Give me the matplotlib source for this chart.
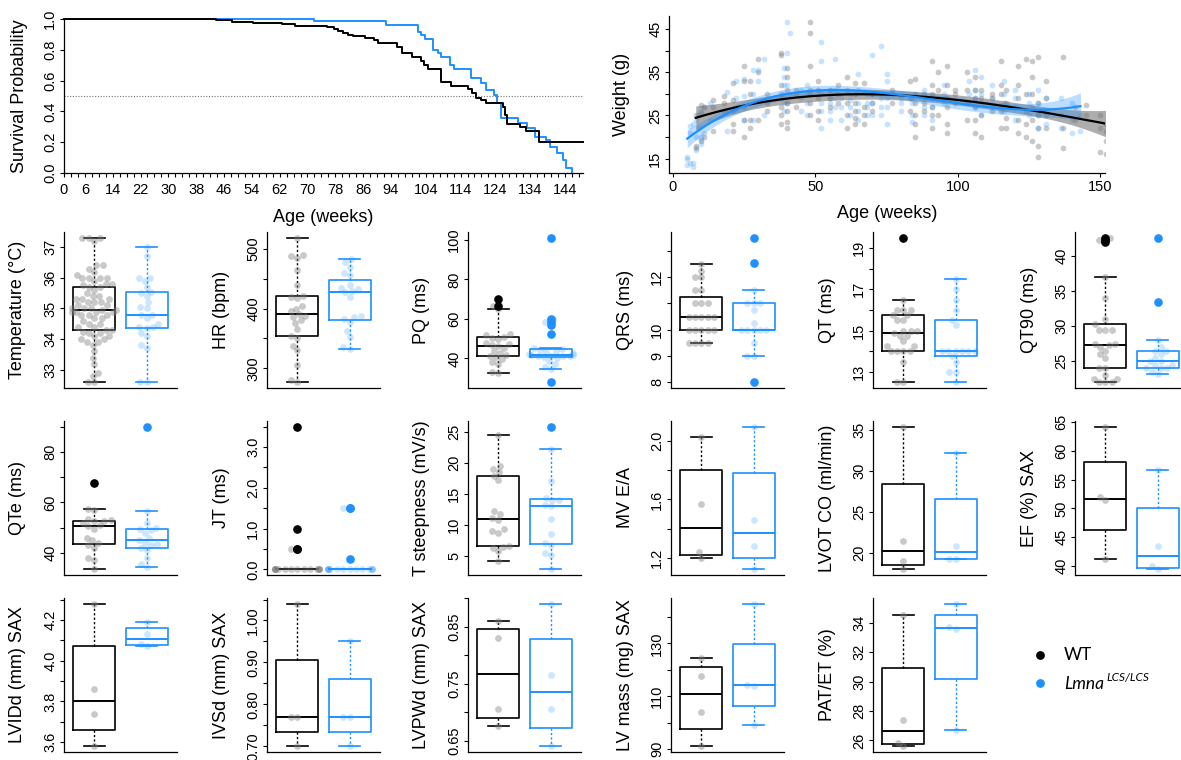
import numpy as np
import matplotlib
matplotlib.use("Agg")
import matplotlib.pyplot as plt

plt.rcParams['font.family'] = ['Liberation Sans', 'DejaVu Sans']

BLUE = '#1E90FF'
W, H = 1181, 760

# ---- survival (Kaplan-Meier steps) ----
wt_time = [0, 43.7, 48.4, 54.2, 57.7, 62.7, 66.5, 75.7, 77.6, 78.9, 80.3, 81.6, 83.2, 86.4,
           89.1, 90.2, 95.6, 97.2, 99.9, 102.6, 103.6, 104.7, 108.5, 111.2, 116.0, 117.3,
           118.4, 119.8, 121.4, 126.2, 126.8, 127.3, 131.1, 132.7, 136.5, 149.2]
wt_surv = [1.0, 0.994, 0.983, 0.976, 0.972, 0.965, 0.957, 0.946, 0.933, 0.922, 0.907, 0.898,
           0.89, 0.879, 0.864, 0.842, 0.82, 0.777, 0.751, 0.727, 0.70, 0.675, 0.593, 0.567,
           0.543, 0.517, 0.485, 0.474, 0.457, 0.43, 0.377, 0.32, 0.30, 0.27, 0.203, 0.203]
lm_time = [0, 71.9, 92.6, 101.7, 102.6, 103.9, 106.1, 107.4, 108.3, 111.0, 112.0, 116.9,
           119.8, 121.4, 123.5, 124.4, 125.5, 130.5, 133.0, 135.4, 138.6, 139.7, 141.8,
           143.5, 144.2, 146.1]
lm_surv = [1.0, 0.985, 0.963, 0.918, 0.896, 0.87, 0.80, 0.777, 0.751, 0.70, 0.675, 0.62,
           0.582, 0.54, 0.506, 0.452, 0.355, 0.322, 0.29, 0.236, 0.214, 0.171, 0.128,
           0.084, 0.03, 0.0]
surv_xlabels = [0, 6, 14, 22, 30, 38, 46, 54, 62, 70, 78, 86, 94, 104, 114, 124, 134, 144]

# ---- body weight scatter ----
wt_ages = [8, 10, 11, 14, 18, 21, 25, 27, 30, 33, 38, 40, 43, 48, 51, 55, 58, 61, 64, 67, 70,
           77, 83, 85, 88, 91, 93, 96, 99, 103, 106, 108, 112, 115, 117, 121, 124, 126, 128,
           131, 137, 141, 145, 150, 152]
wt_weights = [[17.5, 18, 25], [19, 25.5, 27.5], [20, 27], [21.5, 27, 28.5], [26, 28, 29.5],
              [21.5, 23, 26, 28.5, 32.5], [20, 24, 27, 33, 36.5], [22, 24, 30, 33], [24, 35, 38],
              [26, 28, 30], [23, 25, 27, 29, 30, 32, 39, 39.5], [22, 23.5, 26, 28, 31, 34, 36],
              [27, 30, 31], [25, 28, 30, 31, 36.5, 44, 46.5], [24, 26, 29, 31, 33], [27, 29, 31],
              [28, 30, 32], [22, 25, 28, 31, 34], [23, 24.5, 26, 28, 30, 32.5],
              [23, 25, 27, 30.5, 32.5], [26, 28, 30], [28, 30, 31], [26, 29, 33],
              [20, 23, 25, 28, 30, 33.5], [26, 28, 30], [22, 25, 27, 30, 32, 37.5],
              [25, 29, 31, 35], [21, 23, 27, 29, 32, 36.5], [28, 30, 31], [24, 28, 31, 35],
              [21, 24, 27, 29, 31, 34], [20, 25, 29, 31], [26, 29, 30], [22, 26, 30, 32, 37.5],
              [22, 24.5, 28, 31], [21, 24, 29, 32, 36.5], [20, 23, 26, 30, 38],
              [19, 24, 27, 30, 34, 37.5], [15.5, 18, 22, 25, 28, 38.5], [22, 25, 29, 33],
              [17.5, 22, 38.5], [24, 27], [25, 27.5], [16.5, 22, 25], [16, 19, 21.5, 23]]
lm_ages = [5, 6, 7, 8, 9, 10, 11, 13, 19, 22, 25, 28, 30, 32, 39, 40, 41, 45, 47, 52, 55, 57,
           59, 62, 65, 68, 70, 73, 75, 80, 84, 88, 91, 95, 104, 106, 108, 112, 116, 120, 125,
           128, 131, 136, 140, 143]
lm_weights = [[13.5, 15, 15.5], [14, 21, 22.5], [13, 14, 23], [17, 20, 24], [22, 25],
              [18.5, 19.5, 20, 26], [21, 27], [24, 28], [21.5, 26, 30.5], [26.5, 29, 33],
              [24, 29.5, 33.5], [24, 30, 35.5], [33, 35.5], [25, 38], [26, 28, 30, 32, 34, 36],
              [28, 32, 39.5, 46.5], [30, 44], [26, 29, 31], [25, 28, 30.5, 32],
              [22, 26, 28, 30, 37.5, 42], [24, 26, 28, 29, 31], [27, 29, 31, 38], [24, 27, 29],
              [25, 27, 28.5, 30], [24, 26, 28, 31, 34.5], [25, 27, 28, 30], [25, 28, 30, 39],
              [25, 27, 29, 41], [23, 27, 29, 33, 34.5], [26, 28, 29, 30], [23.5, 25, 28, 29],
              [25, 27, 29, 31], [24, 27, 29], [28, 30, 32], [28, 30, 33], [27, 29, 31, 35.5],
              [25, 28, 30, 34], [27, 29, 32], [26, 28, 30, 33], [24, 27, 29, 31], [25, 28, 30],
              [22, 25, 28, 31], [23, 26, 29], [22, 25, 29], [21, 24, 28], [21.5, 25]]

# ---- per-animal phenotype values (WT, Lmna LCS/LCS) ----
temp_wt = [32.6, 32.6, 32.8, 32.9, 33.2, 33.4, 33.6, 33.8, 33.9, 33.9, 34.0, 34.0, 34.1, 34.1,
           34.2, 34.2, 34.25, 34.3, 34.3, 34.4, 34.4, 34.5, 34.5, 34.6, 34.7, 34.7, 34.8, 34.8,
           34.8, 34.9, 34.9, 34.9, 34.9, 34.95, 34.95, 35.0, 35.0, 35.0, 35.1, 35.1, 35.2, 35.2,
           35.2, 35.3, 35.3, 35.3, 35.4, 35.4, 35.5, 35.6, 35.7, 35.7, 35.75, 35.8, 35.9, 36.0,
           36.0, 36.0, 36.0, 36.1, 36.2, 36.3, 36.4, 36.4, 37.2, 37.3, 37.3, 37.3, 35.8]
temp_lm = [32.6, 32.6, 33.7, 33.8, 34.1, 34.2, 34.35, 34.4, 34.4, 34.5, 34.7, 34.8, 34.8,
           35.0, 35.05, 35.2, 35.4, 35.5, 35.55, 35.7, 35.9, 36.0, 36.0, 36.7, 37.0]
hr_wt = [277, 280, 305, 330, 338, 350, 354, 365, 375, 380, 385, 388, 390, 395, 400, 405, 418,
         420, 421, 440, 465, 485, 488, 490, 518]
hr_lm = [333, 335, 352, 362, 378, 382, 385, 388, 420, 428, 430, 432, 435, 440, 456, 460, 470,
         478, 482]
pq_wt = [32.5, 33, 37, 38, 39.5, 40.5, 41.5, 42, 43, 44, 45.5, 46.5, 47, 47.5, 48, 50, 50.5,
         51.1, 52, 52.5, 65, 66.5, 70]
pq_lm = [28, 34.5, 35.5, 37, 38.5, 40, 40.5, 41, 41.2, 41.5, 41.5, 41.8, 42, 42.5, 43, 43.5,
         44, 44.5, 45, 45.5, 52.5, 57, 58.5, 60, 101]
qrs_wt = [9.5, 9.5, 9.5, 9.5, 10, 10, 10, 10, 10, 10.5, 10.5, 10.5, 10.5, 10.5, 11, 11, 11,
          11.5, 11.5, 12, 12, 12.25, 12.5]
qrs_lm = [8, 9, 9, 9.5, 10, 10, 10, 10, 10, 10.25, 10.75, 11, 11, 11, 11.5, 12.55, 13.5]
qt_wt = [12.5, 12.5, 13.5, 14, 14, 14, 14, 14.25, 14.25, 14.5, 14.75, 14.75, 14.875, 15, 15,
         15, 15.5, 15.5, 15.75, 15.75, 16, 16, 16, 16.5, 19.5]
qt_lm = [12.5, 13, 13, 13.5, 13.75, 14, 14, 14, 14, 14, 14, 15.25, 15.5, 16, 16.5, 17, 17.5]
qt90_wt = [22, 22, 22, 22.5, 22.5, 23, 24, 24, 25.5, 26, 26.5, 27, 27.25, 27.5, 27.5, 29.5,
           29.5, 29.5, 30.25, 31, 34, 37, 42, 42.3, 42.6]
qt90_lm = [23.2, 23.5, 24, 24, 24, 24.5, 24.5, 25, 25, 25.5, 26, 26.5, 26.5, 27, 28, 33.5, 42.5]
qte_wt = [33.5, 37, 38, 42, 43, 44, 45, 46, 49.5, 50.5, 51, 52, 52.5, 52.6, 53, 53.5, 57, 57.5,
          67.5]
qte_lm = [34.5, 35.5, 38, 41, 42, 43, 43.5, 44, 45, 46, 48, 49, 49.5, 50, 52, 56.5, 90]
jt_wt = [0] * 14 + [0.5, 0.5, 1.0, 3.5]
jt_lm = [0] * 14 + [0.25, 1.5, 1.5]
tst_wt = [4.2, 5.8, 6.3, 6.5, 6.7, 8.8, 9.0, 9.3, 10.8, 11.2, 11.8, 12.3, 17.2, 17.9, 18.5,
          19.0, 19.5, 24.5]
tst_lm = [2.9, 5.2, 5.5, 6.8, 7.2, 8.6, 10.9, 13.0, 13.3, 14.0, 14.1, 14.3, 17.0, 22.2, 25.8]
mvea_wt = [1.20, 1.24, 1.57, 2.03]
mvea_lm = [1.12, 1.28, 1.46, 2.10]
lvot_wt = [18.0, 19.0, 21.4, 35.4]
lvot_lm = [19.2, 19.3, 20.9, 32.2]
ef_wt = [41.2, 51.4, 52.0, 64.2]
ef_lm = [39.4, 40.0, 43.4, 56.7]
lvid_wt = [3.58, 3.74, 3.86, 4.28]
lvid_lm = [4.07, 4.08, 4.13, 4.19]
ivs_wt = [0.70, 0.77, 0.77, 1.04]
ivs_lm = [0.70, 0.77, 0.77, 0.95]
lvpw_wt = [0.675, 0.705, 0.83, 0.86]
lvpw_lm = [0.64, 0.705, 0.765, 0.89]
lvm_wt = [91, 104, 117.5, 124.5]
lvm_lm = [99, 113.8, 114.3, 145]
pat_wt = [25.6, 25.85, 27.4, 34.5]
pat_lm = [26.7, 33.6, 33.7, 35.3]

# name, wt, lmna, ticks, tick labels ('' = tick without label)
panels = [
    ("Temperature (°C)", temp_wt, temp_lm, [33, 34, 35, 36, 37], ['33', '34', '35', '36', '37']),
    ("HR (bpm)", hr_wt, hr_lm, [300, 350, 400, 450, 500], ['300', '', '400', '', '500']),
    ("PQ (ms)", pq_wt, pq_lm, [40, 60, 80, 100], ['40', '60', '80', '100']),
    ("QRS (ms)", qrs_wt, qrs_lm, [8, 9, 10, 11, 12, 13], ['8', '9', '10', '', '12', '']),
    ("QT (ms)", qt_wt, qt_lm, [13, 14, 15, 16, 17, 18, 19], ['13', '', '15', '', '17', '', '19']),
    ("QT90 (ms)", qt90_wt, qt90_lm, [25, 30, 35, 40], ['25', '30', '35', '40']),
    ("QTe (ms)", qte_wt, qte_lm, [40, 50, 60, 70, 80, 90], ['40', '', '60', '', '80', '']),
    ("JT (ms)", jt_wt, jt_lm, [0, 0.5, 1, 1.5, 2, 2.5, 3, 3.5],
     ['0.0', '', '1.0', '', '2.0', '', '3.0', '']),
    ("T steepness (mV/s)", tst_wt, tst_lm, [5, 10, 15, 20, 25], ['5', '10', '15', '20', '25']),
    ("MV E/A", mvea_wt, mvea_lm, [1.2, 1.4, 1.6, 1.8, 2.0], ['1.2', '', '1.6', '', '2.0']),
    ("LVOT CO (ml/min)", lvot_wt, lvot_lm, [20, 25, 30, 35], ['20', '25', '30', '35']),
    ("EF (%) SAX", ef_wt, ef_lm, [40, 45, 50, 55, 60, 65], ['40', '45', '50', '55', '60', '65']),
    ("LVIDd (mm) SAX", lvid_wt, lvid_lm, [3.6, 3.7, 3.8, 3.9, 4.0, 4.1, 4.2, 4.3],
     ['3.6', '', '3.8', '', '4.0', '', '4.2', '']),
    ("IVSd (mm) SAX", ivs_wt, ivs_lm, [0.70, 0.75, 0.80, 0.85, 0.90, 0.95, 1.00, 1.05],
     ['0.70', '', '0.80', '', '0.90', '', '1.00', '']),
    ("LVPWd (mm) SAX", lvpw_wt, lvpw_lm, [0.65, 0.70, 0.75, 0.80, 0.85, 0.90],
     ['0.65', '', '0.75', '', '0.85', '']),
    ("LV mass (mg) SAX", lvm_wt, lvm_lm, [90, 100, 110, 120, 130, 140],
     ['90', '', '110', '', '130', '']),
    ("PAT/ET (%)", pat_wt, pat_lm, [26, 28, 30, 32, 34], ['26', '28', '30', '32', '34']),
]


def r_boxstats(vals):
    x = np.sort(np.asarray(vals, float))
    n = len(x)
    n4 = np.floor((n + 3) / 2) / 2
    d = np.array([1, n4, (n + 1) / 2, n + 1 - n4, n]) - 1
    f = 0.5 * (x[np.floor(d).astype(int)] + x[np.ceil(d).astype(int)])
    iqr = f[3] - f[1]
    out = (x < f[1] - 1.5 * iqr) | (x > f[3] + 1.5 * iqr)
    return dict(med=f[2], q1=f[1], q3=f[3], whislo=x[~out].min(), whishi=x[~out].max(),
                fliers=x[out])


def swarm(vals, px_x, px_y, d=6.4, half=0.42):
    vals = np.asarray(vals, float)
    off = np.zeros(len(vals))
    px, py = [], []
    for i in np.argsort(vals, kind='stable'):
        y = vals[i] * px_y
        blocks, cands = [], [0.0]
        for ox, oy in zip(px, py):
            dy = y - oy
            if abs(dy) < d:
                w = np.sqrt(d * d - dy * dy)
                blocks.append((ox - w, ox + w))
                cands += [ox - w, ox + w]
        cands.sort(key=lambda c: (round(abs(c), 6), c))
        for c in cands:
            if all(not (lo + 1e-6 < c < hi - 1e-6) for lo, hi in blocks):
                break
        px.append(c)
        py.append(y)
        off[i] = c
    return np.clip(off / px_x, -half, half)


def poly_ci(x, y, deg=3):
    X = np.vander(x, deg + 1)
    beta, *_ = np.linalg.lstsq(X, y, rcond=None)
    resid = y - X @ beta
    s2 = resid @ resid / (len(y) - deg - 1)
    cov = s2 * np.linalg.inv(X.T @ X)
    g = np.linspace(x.min(), x.max(), 200)
    G = np.vander(g, deg + 1)
    fit = G @ beta
    se = np.sqrt(np.einsum('ij,jk,ik->i', G, cov, G))
    return g, fit, fit - 1.97 * se, fit + 1.97 * se


def add_ax(l, t, r, b):
    return fig.add_axes([l / W, 1 - b / H, (r - l) / W, (b - t) / H])


def style(ax, size=10.5):
    for s in ['top', 'right']:
        ax.spines[s].set_visible(False)
    for s in ['left', 'bottom']:
        ax.spines[s].set_linewidth(0.9)
    ax.tick_params(direction='out', length=2.6, width=0.8, pad=2.2, labelsize=size)
    ax.tick_params(axis='y', labelrotation=90)
    plt.setp(ax.get_yticklabels(), va='center')


def ylab(ax, text, off_px, w_px, size=13):
    ax.set_ylabel(text, fontsize=size)
    ax.yaxis.label.set_va('center')
    ax.yaxis.set_label_coords(-off_px / w_px, 0.5)


fig = plt.figure(figsize=(W / 100, H / 100), dpi=100)

# ---------- survival ----------
ax = add_ax(64, 19, 583, 173)
ax.axhline(0.5, color='#777777', lw=0.8, ls=(0, (1, 1.5)))
ax.step(lm_time, lm_surv, where='post', color=BLUE, lw=1.4, clip_on=False)
ax.step(wt_time, wt_surv, where='post', color='black', lw=1.4, clip_on=False)
ax.set_xlim(0, 149.2)
ax.set_ylim(0, 1)
xt = np.arange(0, 149, 2)
ax.set_xticks(xt, [str(v) if v in surv_xlabels else '' for v in xt])
ax.set_yticks([0, 0.2, 0.4, 0.6, 0.8, 1.0], ['0.0', '0.2', '0.4', '0.6', '0.8', '1.0'])
style(ax, 10.5)
ax.tick_params(axis='x', pad=4.5)
ylab(ax, "Survival Probability", 44, 519)
ax.set_xlabel("Age (weeks)", fontsize=13)
ax.xaxis.label.set_va('center')
ax.xaxis.set_label_coords(0.5, -44 / 154)

# ---------- weight ----------
ax = add_ax(669, 16, 1105, 173)
groups = [(wt_ages, wt_weights, 'black', 'gray', 0.42, '#777777', 0.6),
          (lm_ages, lm_weights, BLUE, BLUE, 0.25, BLUE, 0.3)]
for ages, weights, lc, pc, pa, bc, ba in groups:
    x = np.concatenate([[a] * len(w) for a, w in zip(ages, weights)]).astype(float)
    y = np.concatenate(weights).astype(float)
    ax.scatter(x, y, s=17, color=pc, alpha=pa, lw=0, zorder=2)
for ages, weights, lc, pc, pa, bc, ba in groups:
    x = np.concatenate([[a] * len(w) for a, w in zip(ages, weights)]).astype(float)
    y = np.concatenate(weights).astype(float)
    g, fit, lo, hi = poly_ci(x, y)
    ax.fill_between(g, lo, hi, color=bc, alpha=ba, lw=0, zorder=3)
    ax.plot(g, fit, color=lc, lw=1.6, zorder=4)
ax.set_xlim(-1.4, 151.6)
ax.set_ylim(11.7, 48)
ax.set_xticks([0, 50, 100, 150])
ax.set_yticks([15, 20, 25, 30, 35, 40, 45], ['15', '', '25', '', '35', '', '45'])
style(ax, 10.5)
ylab(ax, "Weight (g)", 47, 436)
ax.set_xlabel("Age (weeks)", fontsize=13)
ax.xaxis.label.set_va('center')
ax.xaxis.set_label_coords(0.5, -40 / 157)

# ---------- box panels ----------
rows = [(232, 388), (421, 575), (598, 752)]
cols = [64, 267, 468, 671, 873, 1075]
pw = 113
for k, (name, wt, lm, ticks, labels) in enumerate(panels):
    top, bot = rows[k // 6]
    left = cols[k % 6]
    ax = add_ax(left, top, left + pw, bot)
    allv = np.concatenate([wt, lm])
    lo, hi = allv.min(), allv.max()
    pad = 0.04 * (hi - lo)
    ylim = (lo - pad, hi + pad)
    xlim = (0.42, 2.58)
    px_x = pw / (xlim[1] - xlim[0])
    px_y = (bot - top) / (ylim[1] - ylim[0])
    for pos, vals, col, pcol, pal in [(1, wt, 'black', 'gray', 0.42), (2, lm, BLUE, BLUE, 0.22)]:
        st = r_boxstats(vals)
        ax.bxp([st], positions=[pos], widths=0.8, capwidths=0.4, showfliers=True,
               boxprops=dict(color=col, lw=1.2),
               whiskerprops=dict(color=col, lw=1.0, linestyle=(0, (1.6, 1.6))),
               capprops=dict(color=col, lw=1.2),
               medianprops=dict(color=col, lw=1.4),
               flierprops=dict(marker='o', markerfacecolor=col, markeredgecolor=col,
                               markersize=5.2, linestyle='none', zorder=4))
        xo = swarm(vals, px_x, px_y)
        ax.scatter(pos + xo, vals, s=24, color=pcol, alpha=pal, lw=0, zorder=3)
    ax.set_xlim(*xlim)
    ax.set_ylim(*ylim)
    ax.set_xticks([])
    ax.set_yticks(ticks, labels)
    style(ax, 10.5)
    ylab(ax, name, 46, pw)

# ---------- legend ----------
lg = fig.add_axes([0, 0, 1, 1])
lg.set_xlim(0, W)
lg.set_ylim(H, 0)
lg.axis('off')
lg.scatter([1040], [655], s=40, color='black', lw=0)
lg.scatter([1040], [683], s=40, color=BLUE, lw=0)
lg.text(1064, 655, "WT", fontsize=12.5, family=['Lato', 'DejaVu Sans'], va='center')
lg.text(1064, 684, "Lmna", fontsize=12.5, family=['Lato', 'DejaVu Sans'], style='italic',
        va='center')
lg.text(1106, 677, "LCS/LCS", fontsize=8.5, family=['Lato', 'DejaVu Sans'], style='italic',
        va='center')

fig.savefig("out.png", dpi=100)
